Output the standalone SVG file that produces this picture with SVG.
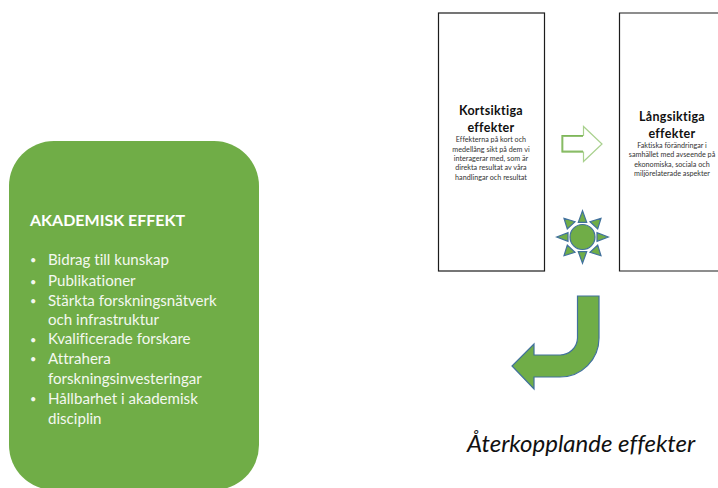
<svg xmlns="http://www.w3.org/2000/svg" width="718" height="488" viewBox="0 0 718 488">
<style>
text{font-family:Lato,"Open Sans","Liberation Sans",sans-serif;font-variant-ligatures:none}
.box{fill:#fff;stroke:#1c1c1c;stroke-width:1.2}
.h{font-size:12.500px;font-weight:700;fill:#111;text-anchor:middle;letter-spacing:.3px}
.s{font-size:7.200px;fill:#333;text-anchor:middle}
.a{font-size:15.100px;fill:#f4f8f0}
.b{font-size:11px;fill:#f4f8f0}
.shape{fill:#70ad47;stroke:#41719c;stroke-width:1.200}
</style>
<rect width="718" height="488" fill="#fff"/>
<g id="akademisk">
<path d="M54 141H214A45 45 0 0 1 259 186V445A45 45 0 0 1 214 490H54A45 45 0 0 1 9 445V186A45 45 0 0 1 54 141Z" fill="#70ad47"/>
<text x="30" y="226" fill="#fff" font-weight="700" font-size="16">AKADEMISK EFFEKT</text>
<text class="b" x="30" y="264">•</text><text class="a" x="48" y="264.500">Bidrag till kunskap</text>
<text class="b" x="30" y="286">•</text><text class="a" x="48" y="286">Publikationer</text>
<text class="b" x="30" y="305">•</text><text class="a" x="48" y="305.500">Stärkta forskningsnätverk</text>
<text class="a" x="48" y="325">och infrastruktur</text>
<text class="b" x="30" y="344">•</text><text class="a" x="48" y="344">Kvalificerade forskare</text>
<text class="b" x="30" y="363">•</text><text class="a" x="48" y="363.500">Attrahera</text>
<text class="a" x="48" y="384">forskningsinvesteringar</text>
<text class="b" x="30" y="403">•</text><text class="a" x="48" y="403.500">Hållbarhet i akademisk</text>
<text class="a" x="48" y="424">disciplin</text>
</g>
<g id="kortsiktiga">
<rect class="box" x="438.500" y="13" width="106" height="258"/>
<text class="h" x="491" y="115">Kortsiktiga</text>
<text class="h" x="491" y="132">effekter</text>
<text class="s" x="491" y="142">Effekterna på kort och</text>
<text class="s" x="491" y="151.500">medellång sikt på dem vi</text>
<text class="s" x="491" y="161">interagerar med, som är</text>
<text class="s" x="491" y="170">direkta resultat av våra</text>
<text class="s" x="491" y="180">handlingar och resultat</text>
</g>
<g id="langsiktiga">
<path class="box" d="M719 13H619.500V271H719"/>
<text class="h" x="672" y="121">Långsiktiga</text>
<text class="h" x="672" y="138">effekter</text>
<text class="s" x="672" y="148">Faktiska förändringar i</text>
<text class="s" x="672" y="157">samhället med avseende på</text>
<text class="s" x="672" y="167">ekonomiska, sociala och</text>
<text class="s" x="672" y="176">miljörelaterade aspekter</text>
</g>
<g id="connectors">
<path d="M562 135.500H583.500V126.500L602 144L583.500 161.500V152H562Z" fill="#fff" stroke="#a9d18e" stroke-width="1.200"/>
<path d="M583 136H562.500V151.500H583" fill="none" stroke="#70ad47" stroke-width="1.800" opacity=".75"/>
<path class="shape" d="M577.500 296H599V338A39 39 0 0 1 560 377H534V389L512 366L534 344V355H560A17.500 17.500 0 0 0 577.500 338Z"/>
</g>
<g id="sol">
<circle class="shape" cx="582.500" cy="237" r="12.500"/>
<path class="shape" d="M582.500 210.700L586.700 222.300H578.300ZM582.500 263.300L586.700 251.700H578.300ZM556.700 237L568 232.700V241.300ZM608.300 237L597 232.700V241.300ZM564 218.300L575 221.700L567.300 229ZM601 218.300L590 221.700L597.700 229ZM564 255.700L575 252.300L567.300 245ZM601 255.700L590 252.300L597.700 245Z"/>
</g>
<text id="aterkoppling" x="467" y="452" font-size="24" font-style="italic" fill="#111">Återkopplande effekter</text>
</svg>
